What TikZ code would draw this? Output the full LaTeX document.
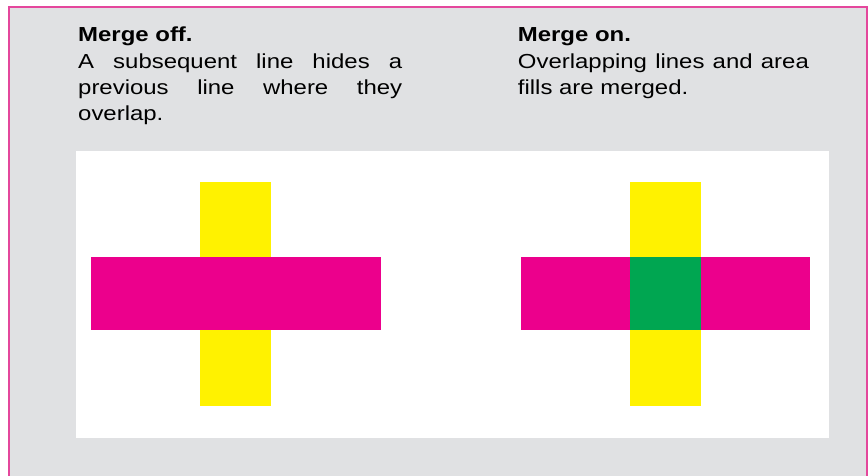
\documentclass[tikz,border=0pt]{standalone}
\usepackage{fontspec}
\setmainfont[FakeStretch=1.18]{Liberation Sans}
\usepackage{xcolor}
\usetikzlibrary{positioning}
\definecolor{mgpanel}{HTML}{E0E1E3}
\definecolor{mgborder}{HTML}{E4479C}
\definecolor{mgmagenta}{HTML}{EC008C}
\definecolor{mgyellow}{HTML}{FFF200}
\definecolor{mggreen}{HTML}{00A651}
\hyphenpenalty=10000
\exhyphenpenalty=10000

\begin{document}
\begin{tikzpicture}[
  x=1pt, y=-1pt,
  title/.style={anchor=base west, inner sep=0pt, font=\fontsize{20.3}{26}\selectfont\bfseries},
  caption/.style={anchor=base west, inner sep=0pt, align=justify,
    font=\fontsize{20.3}{26}\selectfont},
  bar/.style={fill=#1, draw=none},
]
\useasboundingbox (0,0) rectangle (868,476);
% frame
\fill[mgpanel] (9,7) rectangle (868,480);
\draw[mgborder, line width=1.2pt] (9,480) -- (9,7) -- (867,7) -- (867,480);
% captions
\node[title] (offhead) at (78,41.3) {Merge off.};
\node[caption, text width=324pt] (offtext) at (78,68.7)
  {A subsequent line hides a previous line where they overlap.};
\node[title] (onhead) at (517.7,41.3) {Merge on.};
\node[caption, text width=291pt] (ontext) at (517.7,68.7)
  {Overlapping lines and area fills are merged.};
% sample area
\fill[white] (76,151) rectangle (829,437.5);
% merge off
\fill[bar=mgyellow] (200,182) rectangle (271,406);
\fill[bar=mgmagenta] (91,257.3) rectangle (380.7,330.3);
% merge on
\fill[bar=mgmagenta] (520.7,257.3) rectangle (810,330.3);
\fill[bar=mgyellow] (630,182) rectangle (701,406);
\fill[bar=mggreen] (630,257.3) rectangle (701,330.3);
\end{tikzpicture}
\end{document}
